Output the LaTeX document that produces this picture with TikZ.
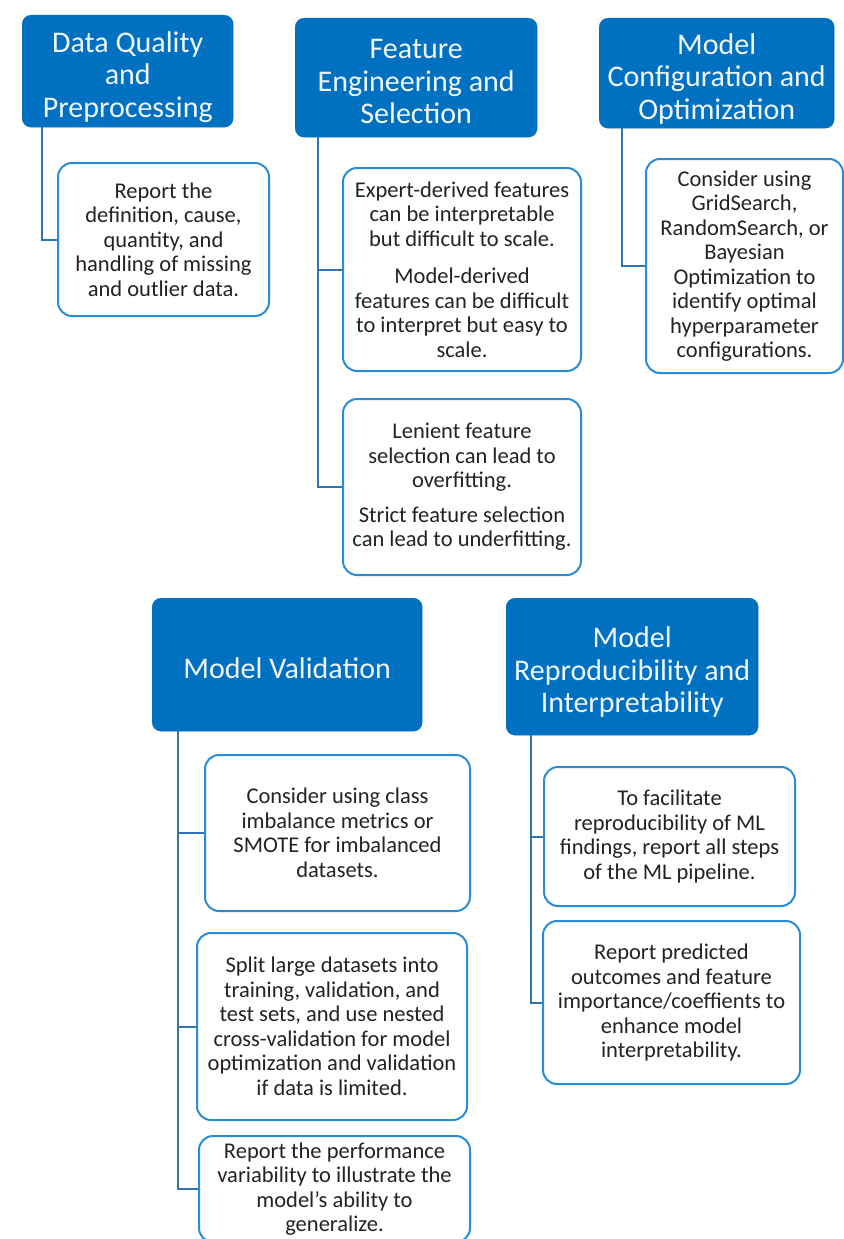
\documentclass[tikz,border=0pt]{standalone}
\usepackage{fontspec}
\setmainfont{Carlito}
\definecolor{headblue}{RGB}{0,112,192}
\definecolor{edgeblue}{RGB}{40,140,215}
\definecolor{lineblue}{RGB}{46,117,182}
\definecolor{inkgray}{RGB}{35,35,35}
\newcommand\headlines[1]{\raisebox{-7pt}[\height][\depth]{\begin{tabular}{@{}c@{}}#1\end{tabular}}}

\begin{document}
\begin{tikzpicture}[x=1pt,y=-1pt,
  heading/.style={anchor=north west,fill=headblue,draw=headblue,rounded corners=9pt,
    text=white!94!headblue,inner sep=0pt,font=\fontsize{30}{32.5}\selectfont},
  detail/.style={anchor=north west,fill=white,draw=edgeblue,line width=2pt,rounded corners=14pt,
    text=inkgray,align=center,inner sep=0pt,font=\fontsize{22.5}{24.5}\selectfont},
  branch/.style={draw=lineblue,line width=2pt}]

  \useasboundingbox[fill=white] (0,0) rectangle (843,1239);

  % top row
  \node[heading,minimum width=211pt,minimum height=112pt] (dq) at (22,15) {\headlines{Data Quality\\and\\Preprocessing}};
  \node[heading,minimum width=242pt,minimum height=119pt] (fe) at (295,18) {\headlines{Feature\\Engineering and\\Selection}};
  \node[heading,minimum width=235pt,minimum height=110pt] (mc) at (599,18) {\headlines{Model\\Configuration and\\Optimization}};

  \node[detail,minimum width=211pt,minimum height=153pt] (dq1) at (57,162)
    {Report the\\definition, cause,\\quantity, and\\handling of missing\\and outlier data.};
  \node[detail,minimum width=238pt,minimum height=203pt] (fe1) at (342,167)
    {Expert-derived features\\can be interpretable\\but difficult to scale.\\[13pt]
     Model-derived\\features can be difficult\\to interpret but easy to\\scale.};
  \node[detail,minimum width=238pt,minimum height=176pt] (fe2) at (342,398)
    {Lenient feature\\selection can lead to\\overfitting.\\[10pt]
     Strict feature selection\\can lead to underfitting.};
  \node[detail,minimum width=197pt,minimum height=214pt] (mc1) at (645,158)
    {Consider using\\GridSearch,\\RandomSearch, or\\Bayesian\\Optimization to\\identify optimal\\hyperparameter\\configurations.};

  % bottom row
  \node[heading,minimum width=270pt,minimum height=133pt] (mv) at (152,598) {\headlines{Model Validation}};
  \node[heading,minimum width=252pt,minimum height=137pt] (mr) at (506,598) {\headlines{Model\\Reproducibility and\\Interpretability}};

  \node[detail,minimum width=265pt,minimum height=156pt] (mv1) at (204,754)
    {Consider using class\\imbalance metrics or\\SMOTE for imbalanced\\datasets.};
  \node[detail,minimum width=270pt,minimum height=187pt] (mv2) at (196,932)
    {Split large datasets into\\training, validation, and\\test sets, and use nested\\cross-validation for model\\optimization and validation\\if data is limited.};
  \node[detail,minimum width=271pt,minimum height=106pt] (mv3) at (198,1135)
    {Report the performance\\variability to illustrate the\\model's ability to\\generalize.};
  \node[detail,minimum width=251pt,minimum height=139pt] (mr1) at (543,766)
    {To facilitate\\reproducibility of ML\\findings, report all steps\\of the ML pipeline.};
  \node[detail,minimum width=257pt,minimum height=163pt] (mr2) at (542,920)
    {Report predicted\\outcomes and feature\\importance/coeffients to\\enhance model\\interpretability.};

  % connectors
  \draw[branch] ([xshift=20pt]dq.south west) |- (dq1.west);
  \foreach \c in {fe1,fe2}
    \draw[branch] ([xshift=23pt]fe.south west) |- (\c.west);
  \draw[branch] ([xshift=23pt]mc.south west) |- (mc1.west);
  \foreach \c in {mv1,mv2,mv3}
    \draw[branch] ([xshift=26pt]mv.south west) |- (\c.west);
  \foreach \c in {mr1,mr2}
    \draw[branch] ([xshift=25pt]mr.south west) |- (\c.west);
\end{tikzpicture}
\end{document}
